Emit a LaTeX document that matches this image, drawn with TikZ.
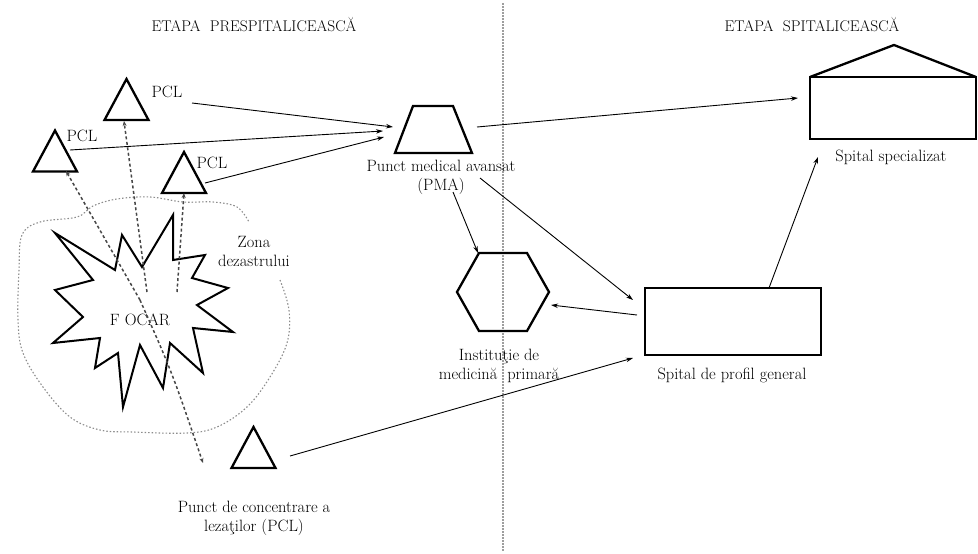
\documentclass[tikz,border=0pt]{standalone}
\usepackage{fontspec}
\usetikzlibrary{arrows.meta}
\begin{document}
\begin{tikzpicture}[x=1pt,y=-1pt,
  shp/.style={line width=2.3pt, line join=miter, draw=black},
  con/.style={line width=0.9pt, -{Stealth[length=7pt,width=4.5pt]}},
  evac/.style={line width=1.5pt, draw=black!72, dash pattern=on 3pt off 2.5pt, -{Stealth[length=5pt,width=4pt]}},
  zone/.style={line width=1.1pt, draw=black!45, dash pattern=on 1.5pt off 2pt},
  divider/.style={line width=1.1pt, draw=black!38, dash pattern=on 1.5pt off 1.5pt},
  lbl/.style={font=\fontsize{16.4}{19}\selectfont, align=center, inner sep=0pt},
  ttl/.style={font=\fontsize{15.5}{18}\selectfont, inner sep=0pt}]
\useasboundingbox (0,0) rectangle (978,554);

% titles and divider
\node[ttl] (ttlA) at (254,25) {ETAPA\ \ PRESPITALICEASCĂ};
\node[ttl] (ttlB) at (812,25) {ETAPA\ \ SPITALICEASCĂ};
\coordinate (divTop) at (503,3);
\coordinate (divBot) at (503,552);
\draw[divider] (divTop) -- (divBot);

% disaster zone
\draw[zone] plot[smooth, tension=0.6] coordinates {(280,280) (289,310) (287,343) (270,377) (247,407) (217,427) (187,433) (133,432) (100,430) (70,417) (43,387) (23,353) (18,320) (19,270) (22,235) (40,222) (77,217) (93,206) (117,199) (150,197) (183,202) (213,202) (237,207) (249,222)};
\node[lbl] (zona) at (254,251) {Zona\\dezastrului};

% focus star
\draw[shp, line width=2pt] (173,215) -- (173,260) -- (205,255) -- (192,278) -- (228,288) -- (197,305) -- (233,332) -- (193,328) -- (203,373) -- (170,343) -- (163,388) -- (140,345) -- (123,407) -- (118,353) -- (95,368) -- (100,338) -- (53,343) -- (83,317) -- (55,290) -- (93,280) -- (55,233) -- (115,270) -- (122,235) -- (142,267) -- cycle;
\node[lbl] (focar) at (140,320) {F OCAR};

% PCL triangles
\coordinate (T1) at (126.5,99.5);
\coordinate (T2) at (55,151);
\coordinate (T3) at (184,172.5);
\coordinate (T4) at (253.5,447.5);
\foreach \t in {T1,T2,T3,T4}
  \draw[shp] (\t) ++(-22,20.5) -- ++(22,-41) -- ++(22,41) -- cycle;
\node[lbl] (pcl1) at (167,92) {PCL};
\node[lbl] (pcl2) at (82,136) {PCL};
\node[lbl] (pcl3) at (212,163) {PCL};
\node[lbl] (pclL) at (254,518) {Punct de concentrare a\\lezaţilor (PCL)};

% evacuation paths from the focus
\coordinate (f1) at (147,292);
\coordinate (f2) at (140,300);
\coordinate (f3) at (177,292);
\coordinate (e1) at (124,121);
\coordinate (e2) at (66,171);
\coordinate (e3) at (184,193);
\coordinate (e4) at (203,463);
\draw[evac] (f1) -- (e1);
\draw[evac] (f2) -- (e2);
\draw[evac] (f3) -- (e3);
\draw[evac] (f2) .. controls (172,372) .. (e4);

% PMA
\draw[shp] (413,106) -- (453,106) -- (472,153) -- (395,153) -- cycle;
\node[lbl] (pma) at (441,177) {Punct medical avansat\\(PMA)};

% hexagon (primary care)
\draw[shp] (479,253) -- (527,253) -- (549,292) -- (527,331) -- (479,331) -- (457,292) -- cycle;
\node[lbl] (inst) at (499,366) {Instituţie de\\medicină\ \ primară};

% general hospital
\draw[shp] (645,288) rectangle (821,355);
\node[lbl] (gen) at (732,375) {Spital de profil general};

% specialized hospital
\draw[shp] (810,77) rectangle (976,139);
\draw[shp] (810,77) -- (894,45) -- (976,77);
\node[lbl] (spec) at (891,157) {Spital specializat};

% connectors
\coordinate (a1s) at (192,103); \coordinate (a1e) at (393,127);
\coordinate (a2s) at (70,150);  \coordinate (a2e) at (383,131);
\coordinate (a3s) at (205,183); \coordinate (a3e) at (384,137);
\draw[con] (a1s) -- (a1e);
\draw[con] (a2s) -- (a2e);
\draw[con] (a3s) -- (a3e);
\coordinate (b1s) at (477,127); \coordinate (b1e) at (798,98);
\draw[con] (b1s) -- (b1e);
\coordinate (b2s) at (480,178); \coordinate (b2e) at (633,300);
\draw[con] (b2s) -- (b2e);
\coordinate (b3s) at (453,192); \coordinate (b3e) at (478,253);
\draw[con] (b3s) -- (b3e);
\coordinate (b4s) at (637,315); \coordinate (b4e) at (551,305);
\draw[con] (b4s) -- (b4e);
\coordinate (b5s) at (290,456); \coordinate (b5e) at (633,358);
\draw[con] (b5s) -- (b5e);
\coordinate (b6s) at (769,288); \coordinate (b6e) at (818,157);
\draw[con] (b6s) -- (b6e);
\end{tikzpicture}
\end{document}
